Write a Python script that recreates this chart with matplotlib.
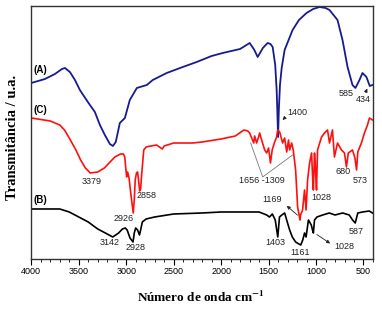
import numpy as np
import matplotlib
matplotlib.use('Agg')
import matplotlib.pyplot as plt
from matplotlib.ticker import MultipleLocator

plt.rcParams['font.family'] = 'Liberation Sans'
plt.rcParams['mathtext.fontset'] = 'stix'

# curva (A) - azul
wn_a = [4000, 3856, 3751, 3677, 3645, 3593, 3540, 3488, 3404, 3330, 3277, 3225, 3172, 3140,
        3110, 3067, 3014, 2962, 2888, 2783, 2720, 2573, 2404, 2257, 2100, 1983, 1800, 1699,
        1650, 1615, 1560, 1510, 1480, 1457, 1430, 1415, 1408, 1400, 1392, 1380, 1362, 1331,
        1247, 1180, 1100, 1030, 963, 900, 858, 774, 721, 668, 616, 585, 542, 511, 469, 434, 405]
t_a = [176, 180, 185, 190, 191, 187, 179, 169, 157, 147, 134, 124, 115, 113,
       117, 136, 141, 159, 171, 174, 179, 186, 192, 197, 203, 206, 210, 216,
       209, 202, 211, 216, 215, 212, 194, 169, 149, 122, 149, 174, 191, 209,
       229, 239, 246, 250, 252, 251, 249, 239, 219, 192, 174, 171, 179, 186, 182, 173, 174]

# curva (C) - vermelha
wn_c = [4000, 3800, 3700, 3650, 3600, 3530, 3480, 3430, 3379, 3300, 3230, 3180, 3120, 3060,
        3030, 3015, 3005, 2995, 2985, 2970, 2950, 2926, 2915, 2905, 2892, 2880, 2870, 2858,
        2848, 2835, 2815, 2790, 2740, 2680, 2650, 2620, 2600, 2500, 2300, 2200, 2000, 1850,
        1760, 1720, 1699, 1678, 1656, 1647, 1626, 1605, 1594, 1573, 1541, 1520, 1500, 1480,
        1462, 1436, 1415, 1404, 1383, 1352, 1331, 1309, 1290, 1278, 1257, 1240, 1215, 1194,
        1169, 1163, 1142, 1121, 1105, 1089, 1068, 1047, 1035, 1028, 1016, 1005, 995, 984,
        942, 911, 879, 858, 827, 806, 774, 732, 700, 680, 660, 616, 590, 573, 560, 522,
        490, 458, 437, 405]
t_c = [141, 138, 134, 129, 121, 109, 99, 91, 86, 87, 91, 96, 102, 105,
       105, 102, 91, 82, 87, 81, 64, 46, 59, 79, 86, 87, 79, 68,
       70, 87, 109, 112, 113, 114, 112, 110, 113, 116, 116, 117, 120, 123,
       129, 128, 126, 121, 116, 123, 116, 122, 126, 119, 109, 106, 111, 96,
       109, 117, 122, 129, 127, 116, 121, 107, 119, 109, 116, 109, 89, 52,
       39, 44, 49, 69, 49, 79, 96, 106, 79, 69, 106, 89, 69, 109,
       122, 126, 129, 116, 129, 102, 116, 109, 106, 92, 106, 109, 101, 89, 107, 116,
       126, 134, 141, 139]

# curva (B) - preta
wn_b = [4000, 3700, 3600, 3500, 3400, 3300, 3220, 3142, 3080, 3040, 3010, 2990, 2960, 2928,
        2915, 2900, 2880, 2860, 2848, 2830, 2790, 2700, 2500, 2200, 2000, 1800, 1600, 1520,
        1490, 1460, 1430, 1403, 1385, 1360, 1331, 1300, 1278, 1250, 1215, 1180, 1161, 1140,
        1121, 1105, 1080, 1050, 1037, 1028, 1016, 990, 930, 860, 800, 720, 650, 615, 587,
        560, 510, 440, 405]
t_b = [50, 50, 47, 42, 37, 30, 26, 22, 26, 30, 31, 29, 21, 17,
       26, 31, 29, 24, 29, 37, 40, 42, 45, 46, 47, 47, 47, 44,
       42, 45, 39, 22, 42, 44, 46, 36, 29, 22, 17, 15, 14, 19,
       26, 22, 39, 34, 29, 26, 39, 42, 44, 46, 44, 46, 44, 39, 36,
       46, 47, 48, 46]

# rótulos das bandas: (texto, número de onda, altura)
labels = [('3379', 3361, 77), ('2926', 3024, 40), ('2858', 2783, 63),
          ('3142', 3172, 16), ('2928', 2898, 11), ('1400', 1194, 146),
          ('585', 678, 165), ('434', 501, 159), ('1656 -1309', 1573, 78),
          ('1169', 1458, 59), ('1028', 942, 61), ('680', 710, 87), ('573', 532, 78),
          ('1403', 1426, 16), ('1161', 1173, 6), ('1028', 700, 12), ('587', 574, 27)]

fig = plt.figure(figsize=(3.82, 3.12), dpi=100)
ax = fig.add_axes([0.0819, 0.1699, 0.8945, 0.8109])

ax.plot(wn_a, t_a, color='#1a1a8f', lw=1.3)
ax.plot(wn_c, t_c, color='#ff1010', lw=1.2)
ax.plot(wn_b, t_b, color='black', lw=1.2)

for txt, x, y in labels:
    ax.text(x, y, txt, fontsize=6.5, ha='center', va='center', color='#222222')

for txt, y in [('(A)', 189), ('(C)', 149), ('(B)', 59)]:
    ax.text(3908, y, txt, fontsize=7, fontweight='bold', ha='center', va='center')

arr = dict(arrowstyle='-|>', color='#222222', lw=0.6, mutation_scale=5)
ax.annotate('', xy=(1373, 137), xytext=(1310, 143), arrowprops=arr)
ax.annotate('', xy=(448, 173), xytext=(490, 164), arrowprops=arr)
ax.annotate('', xy=(1331, 55), xytext=(1173, 42), arrowprops=arr)
ax.annotate('', xy=(827, 14), xytext=(1016, 26), arrowprops=arr)
ax.plot([1689, 1562, 1247], [116, 82, 104], color='#777777', lw=0.6)

ax.set_xlim(4000, 400)
ax.set_ylim(0, 253)
ax.set_yticks([])
ax.xaxis.set_major_locator(MultipleLocator(500))
ax.xaxis.set_minor_locator(MultipleLocator(100))
ax.tick_params(axis='x', which='major', length=4, width=0.8, labelsize=6.5, pad=2)
ax.tick_params(axis='x', which='minor', length=2, width=0.6)
for s in ax.spines.values():
    s.set_linewidth(1.0)
    s.set_color('#333333')

fig.text(0.525, 0.048, r'Número de onda cm$^{\mathbf{-1}}$', fontsize=9.5,
         fontweight='bold', family='Liberation Serif', ha='center', va='center')
fig.text(0.032, 0.56, 'Transmitância / u.a.', fontsize=10.5, fontweight='bold',
         family='Liberation Serif', rotation=90, ha='center', va='center')

fig.savefig('out.png', dpi=100)
